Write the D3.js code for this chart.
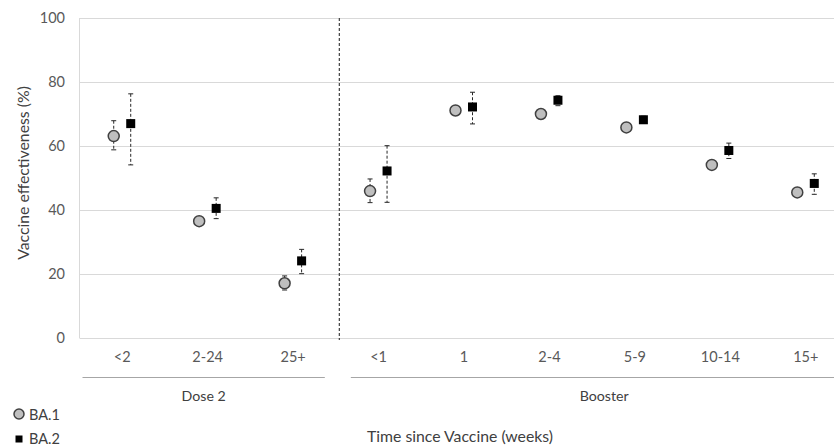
<!DOCTYPE html>
<html><head><meta charset="utf-8">
<script src="https://cdn.jsdelivr.net/npm/d3@7"></script>
<style>body{margin:0;background:#fff;} svg{display:block;font-family:Lato,"Open Sans",sans-serif;}</style>
</head><body>
<svg id="c" width="834" height="447"></svg>
<script>
const categories = ["<2","2-24","25+","<1","1","2-4","5-9","10-14","15+"];
const groups = ["Dose 2","Dose 2","Dose 2","Booster","Booster","Booster","Booster","Booster","Booster"];
const ba1 = [63.1, 36.5, 17.1, 45.9, 71.1, 70.0, 65.8, 54.1, 45.5];
const ba1Low = [58.8, 35.5, 15.0, 42.3, 70.0, 69.3, 65.0, 53.3, 44.3];
const ba1High = [67.9, 37.5, 19.4, 49.7, 72.6, 70.7, 66.6, 55.0, 46.7];
const ba2 = [67.0, 40.5, 24.1, 52.2, 72.2, 74.3, 68.2, 58.6, 48.3];
const ba2Low = [54.1, 37.3, 20.1, 42.4, 66.9, 72.6, 67.2, 56.1, 44.9];
const ba2High = [76.3, 43.8, 27.7, 60.1, 76.8, 75.7, 69.3, 60.9, 51.3];
const yTicks = [0, 20, 40, 60, 80, 100];
const seriesNames = ["BA.1","BA.2"];

(function () {
const svg = d3.select("#c");
const pLeft = 79.5, pRight = 848.5, pTop = 18, pBottom = 338;
const x = d3.scaleBand().domain(categories).range([pLeft, pRight]);
const y = d3.scaleLinear().domain([0, 100]).range([pBottom, pTop]);

// gridlines
svg.append("g").selectAll("line").data(yTicks).join("line")
  .attr("x1", pLeft).attr("x2", 834)
  .attr("y1", d => Math.round(y(d)) + 0.5).attr("y2", d => Math.round(y(d)) + 0.5)
  .attr("stroke", "#d9d9d9").attr("stroke-width", 1);
// y axis line
svg.append("line").attr("x1", pLeft).attr("x2", pLeft).attr("y1", y(100)).attr("y2", y(0))
  .attr("stroke", "#d9d9d9");

// y tick labels
svg.append("g").selectAll("text").data(yTicks).join("text")
  .attr("x", 65).attr("y", d => y(d)).attr("dy", "0.35em")
  .attr("text-anchor", "end").attr("font-size", 14.5).attr("fill", "#595959")
  .text(d => d);

// y title
svg.append("text").attr("transform", `translate(23,173) rotate(-90)`)
  .attr("text-anchor", "middle").attr("dy", "0.35em").attr("font-size", 15.8).attr("fill", "#404040")
  .text("Vaccine effectiveness (%)");

// category labels
svg.append("g").selectAll("text").data(categories).join("text")
  .attr("x", d => x(d) + x.bandwidth()/2).attr("y", 357).attr("dy", "0.35em")
  .attr("text-anchor", "middle").attr("font-size", 14.5).attr("fill", "#595959")
  .text(d => d);

// dashed divider
const divX = x("<1") + 3.5;
svg.append("line").attr("x1", divX).attr("x2", divX).attr("y1", y(100)).attr("y2", y(0) + 2)
  .attr("stroke", "#404040").attr("stroke-width", 1.2).attr("stroke-dasharray", "3,2");

// group lines and labels
const groupNames = Array.from(new Set(groups));
groupNames.forEach((g, gi) => {
  const cats = categories.filter((c, i) => groups[i] === g);
  const x0 = x(cats[0]) + (gi === 0 ? 3 : 15);
  const x1 = x(cats[cats.length-1]) + x.bandwidth() + (gi === 0 ? -11 : 9);
  svg.append("line").attr("x1", x0).attr("x2", x1).attr("y1", 377.5).attr("y2", 377.5)
    .attr("stroke", "#a6a6a6").attr("stroke-width", 1);
  svg.append("text").attr("x", (x0 + x1)/2).attr("y", 396).attr("dy", "0.35em")
    .attr("text-anchor", "middle").attr("font-size", 14.2).attr("fill", "#404040").text(g);
});

// x title
svg.append("text").attr("x", 460).attr("y", 436.5).attr("dy", "0.35em")
  .attr("text-anchor", "middle").attr("font-size", 15.8).attr("fill", "#404040")
  .text("Time since Vaccine (weeks)");

const off = 8.5;
const cx1 = (d, i) => x(categories[i]) + x.bandwidth()/2 - off;
const cx2 = (d, i) => x(categories[i]) + x.bandwidth()/2 + off;

function errorBars(vals, lo, hi, cxf) {
  const g = svg.append("g");
  g.selectAll("line.v").data(vals).join("line").attr("class","v")
    .attr("x1", cxf).attr("x2", cxf)
    .attr("y1", (d,i) => y(hi[i])).attr("y2", (d,i) => y(lo[i]))
    .attr("stroke", "#262626").attr("stroke-width", 1).attr("stroke-dasharray", "3,2");
  [hi, lo].forEach(arr => {
    g.append("g").selectAll("line").data(vals).join("line")
      .attr("x1", (d,i) => cxf(d,i) - 2.5).attr("x2", (d,i) => cxf(d,i) + 2.5)
      .attr("y1", (d,i) => y(arr[i])).attr("y2", (d,i) => y(arr[i]))
      .attr("stroke", "#262626").attr("stroke-width", 1);
  });
}
errorBars(ba1, ba1Low, ba1High, cx1);
errorBars(ba2, ba2Low, ba2High, cx2);

// BA.1 circles
svg.append("g").selectAll("circle").data(ba1).join("circle")
  .attr("cx", cx1).attr("cy", d => y(d)).attr("r", 5.5)
  .attr("fill", "#bfbfbf").attr("stroke", "#404040").attr("stroke-width", 1.5);
// BA.2 squares
svg.append("g").selectAll("rect").data(ba2).join("rect")
  .attr("x", (d,i) => cx2(d,i) - 4.5).attr("y", d => y(d) - 4.5)
  .attr("width", 9).attr("height", 9).attr("fill", "#000");

// legend
const lg = svg.append("g");
lg.append("circle").attr("cx", 19).attr("cy", 414).attr("r", 5)
  .attr("fill", "#bfbfbf").attr("stroke", "#404040").attr("stroke-width", 1.5);
lg.append("rect").attr("x", 15.5).attr("y", 435.5).attr("width", 7).attr("height", 7).attr("fill", "#000");
lg.selectAll("text").data(seriesNames).join("text")
  .attr("x", 29).attr("y", (d,i) => 415 + i*24).attr("dy", "0.35em")
  .attr("font-size", 14.5).attr("fill", "#404040").text(d => d);
})();
</script>
</body></html>
